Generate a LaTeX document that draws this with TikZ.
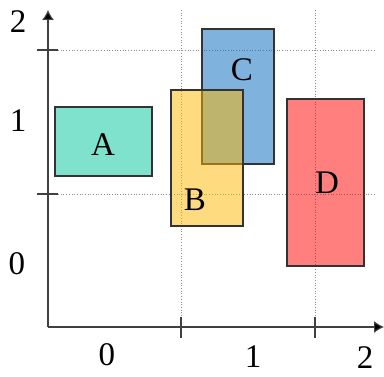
\documentclass[tikz,border=0pt]{standalone}
\usepackage{fontspec}
\setmainfont{Liberation Serif}
\usetikzlibrary{arrows.meta}
\definecolor{colA}{RGB}{0,197,153}
\definecolor{colB}{RGB}{255,183,0}
\definecolor{colC}{RGB}{0,101,185}
\definecolor{colD}{RGB}{255,0,0}
\begin{document}
\begin{tikzpicture}[x=1pt, y=1pt,
    axis/.style={draw=black!75, line width=1.1pt},
    tick/.style={draw=black!75, line width=1.1pt},
    gridline/.style={draw=black!45, dotted, line width=0.7pt},
    box/.style={draw=black!80, line width=1.1pt, fill opacity=0.5},
    lbl/.style={font=\fontsize{33}{36}\selectfont, inner sep=0pt}]

\useasboundingbox (0,0) rectangle (384,376);

% Axes
\coordinate (orig) at (48,49);
\coordinate (xend) at (384,49);
\coordinate (yend) at (48,366);

% Grid
\coordinate (gx1) at (181,366);
\coordinate (gx2) at (315,366);
\coordinate (gy1) at (58,182);
\coordinate (gy2) at (58,326);
\draw[gridline] (gx1) -- (181,59);
\draw[gridline] (gx2) -- (315,59);
\draw[gridline] (gy1) -- (375,182);
\draw[gridline] (gy2) -- (375,326);

% Ticks
\draw[tick] (37,182) -- (gy1);
\draw[tick] (37,326) -- (gy2);
\draw[tick] (181,59) -- (181,38);
\draw[tick] (315,59) -- (315,38);

\draw[axis, -{Latex[length=10pt, width=12pt, fill=black]}] (orig) -- (xend);
\draw[axis, -{Latex[length=10pt, width=12pt, fill=black]}] (orig) -- (yend);

% Axis labels
\node[lbl] (x0) at (107,21) {0};
\node[lbl] (x1) at (253,19) {1};
\node[lbl] (x2) at (365,18) {2};
\node[lbl] (y0) at (17,112) {0};
\node[lbl] (y1) at (18,255) {1};
\node[lbl] (y2) at (18,354) {2};

% Rectangles
\draw[box, fill=colA] (55,200) rectangle (152,269);
\draw[box, fill=colD] (287,110) rectangle (364,277);
\draw[box, fill=colC] (202,212) rectangle (274,347);
\draw[box, fill=colB] (171,150) rectangle (243,286);

\node[lbl] (A) at (103,231) {A};
\node[lbl] (B) at (195,176) {B};
\node[lbl] (C) at (242,306) {C};
\node[lbl] (D) at (327,193) {D};
\end{tikzpicture}
\end{document}
